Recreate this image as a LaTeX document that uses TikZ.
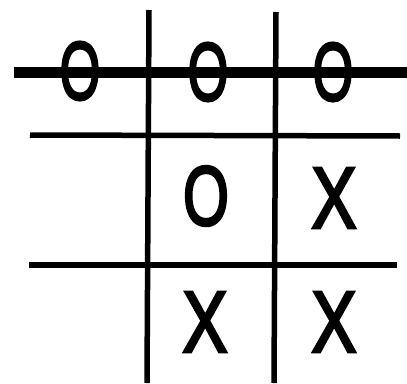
\documentclass[tikz,border=0pt]{standalone}
\usepackage{fontspec}
\setmainfont{Liberation Sans}
\newfontfamily\markfont[FakeBold=3.5]{Liberation Sans}
\begin{document}
\begin{tikzpicture}[x=1pt,y=-1pt,
  grid/.style={line width=5.5pt,black},
  strike/.style={line width=11pt,black},
  glyph/.style={inner sep=0pt,font=\fontsize{84}{84}\markfont}]
\useasboundingbox (0,0) rectangle (407,383);
\coordinate (v1t) at (149,10); \coordinate (v1b) at (147,383);
\coordinate (v2t) at (276,12); \coordinate (v2b) at (274,383);
\coordinate (h1l) at (30,135); \coordinate (h1r) at (400,136);
\coordinate (h2l) at (29,265); \coordinate (h2r) at (397,265);
\coordinate (sl) at (14,72); \coordinate (sr) at (407,72);
\draw[grid] (v1t) -- (v1b);
\draw[grid] (v2t) -- (v2b);
\draw[grid] (h1l) -- (h1r);
\draw[grid] (h2l) -- (h2r);
\node[glyph] (a1) at (80,71) {\scalebox{0.62}[0.98]{O}};
\node[glyph] (a2) at (208,72) {\scalebox{0.62}[0.98]{O}};
\node[glyph] (a3) at (333,72) {\scalebox{0.62}[0.98]{O}};
\node[glyph] (b2) at (206,196) {\scalebox{0.7}[1.0]{O}};
\node[glyph] (b3) at (334,198) {\scalebox{0.8}[1.03]{X}};
\node[glyph] (c2) at (205,322) {\scalebox{0.8}[1.03]{X}};
\node[glyph] (c3) at (334,322) {\scalebox{0.8}[1.03]{X}};
\draw[strike] (sl) -- (sr);
\end{tikzpicture}
\end{document}
